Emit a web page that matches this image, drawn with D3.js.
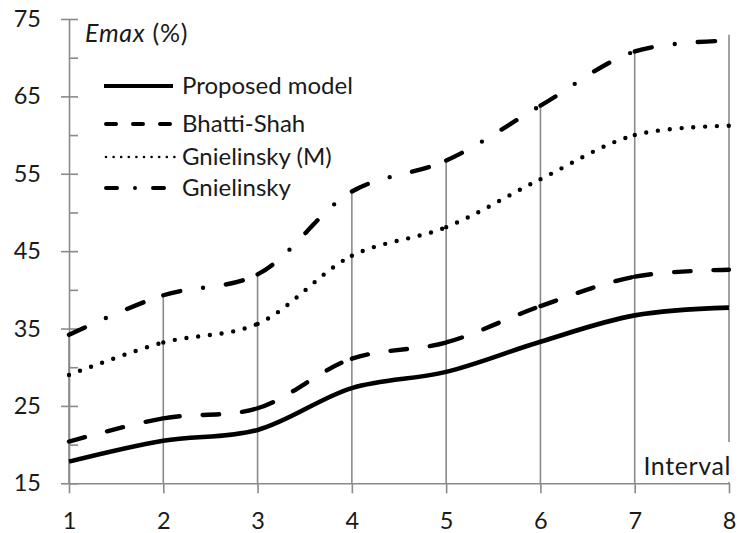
<!DOCTYPE html>
<html>
<head>
<meta charset="utf-8">
<script src="https://cdn.jsdelivr.net/npm/d3@7/dist/d3.min.js"></script>
<style>
  html, body { margin: 0; padding: 0; background: #fff; }
  svg { display: block; }
  text { font-family: Lato, "Open Sans", sans-serif; fill: #1a1a1a; }
</style>
</head>
<body>
<svg id="chart" width="740" height="533"></svg>
<script>
// Interval numbers on the horizontal axis
const intervals = [1, 2, 3, 4, 5, 6, 7, 8];

// Emax (%) per interval for each correlation
const proposedModel = [17.8, 20.5, 21.9, 27.3, 29.4, 33.3, 36.7, 37.7];
const bhattiShah    = [20.4, 23.4, 24.7, 31.1, 33.2, 37.9, 41.7, 42.6];
const gnielinskyM   = [29.0, 33.2, 35.6, 44.4, 48.1, 54.3, 60.0, 61.2];
const gnielinsky    = [34.2, 39.3, 42.0, 52.7, 56.7, 63.8, 70.8, 72.2];

const seriesNames = ["Proposed model", "Bhatti-Shah", "Gnielinsky (M)", "Gnielinsky"];

// Axis ticks
const yMajorTicks = [15, 25, 35, 45, 55, 65, 75];
const yMinorTicks = [20, 30, 40, 50, 60, 70];

const svg = d3.select("#chart");
const axisColor = "#8a8a8a";

const x = d3.scaleLinear().domain([1, 8]).range([69, 729]);
const y = d3.scaleLinear().domain([15, 75]).range([483.3, 19]);

// Line styles: dash pattern restarts at every data point
const styles = [
  { values: proposedModel, dash: null,              width: 4.6, legendDash: null,           legendWidth: 4 },
  { values: bhattiShah,    dash: [16.5, 23],        width: 4.4, legendDash: [10, 17],       legendWidth: 4 },
  { values: gnielinskyM,   dash: [0, 11.8],         width: 4.4, legendDash: [0, 7.6],       legendWidth: 2.6 },
  { values: gnielinsky,    dash: [17.5, 23, 0, 23], width: 4.4, legendDash: [11, 18, 0, 18], legendWidth: 4 }
];

// Drop lines from the axis up to the highest series at each interval
const allSeries = styles.map(s => s.values);
const highest = intervals.map((d, i) => d3.max(allSeries, s => s[i]));
svg.append("g")
  .selectAll("line")
  .data(intervals)
  .join("line")
  .attr("x1", d => x(d)).attr("x2", d => x(d))
  .attr("y1", y(15))
  .attr("y2", (d, i) => y(highest[i]) - (i === intervals.length - 1 ? 6 : 2))
  .attr("stroke", axisColor)
  .attr("stroke-width", 1.6);

// Axis title on the right, with a white box over the last drop line
const xTitle = svg.append("g");
xTitle.append("rect")
  .attr("x", 640).attr("y", 442).attr("width", 95).attr("height", 40)
  .attr("fill", "#fff");
xTitle.append("text")
  .attr("x", 731).attr("y", 475)
  .attr("text-anchor", "end")
  .attr("font-size", 25)
  .attr("letter-spacing", 0.6)
  .text("Interval");

// Y axis with crossing major ticks and inside minor ticks
const yAxis = svg.append("g")
  .attr("transform", `translate(${x(1)},0)`)
  .call(d3.axisLeft(y).tickValues(yMajorTicks).tickSize(8).tickSizeOuter(0).tickPadding(20));
yAxis.selectAll(".tick line").attr("x1", 9);
const yMinor = svg.append("g")
  .attr("transform", `translate(${x(1)},0)`)
  .call(d3.axisLeft(y).tickValues(yMinorTicks).tickSize(-9).tickFormat(""));
yMinor.select(".domain").remove();

// X axis
const xAxis = svg.append("g")
  .attr("transform", `translate(0,${y(15)})`)
  .call(d3.axisBottom(x).tickValues(intervals).tickSize(10).tickSizeOuter(0).tickPadding(19).tickFormat(d3.format("d")));

[yAxis, yMinor, xAxis].forEach(g => {
  g.selectAll("line, path").attr("stroke", axisColor).attr("stroke-width", 1.6);
  g.selectAll("text").attr("font-size", 23.5).attr("fill", "#1a1a1a")
    .attr("font-family", "Lato, 'Open Sans', sans-serif");
});

// Build a dash array that starts the pattern over at each data point
function segmentedDash(node, pattern, xs) {
  const total = node.getTotalLength();
  const findLen = px => {
    let lo = 0, hi = total;
    for (let k = 0; k < 40; k++) {
      const mid = (lo + hi) / 2;
      if (node.getPointAtLength(mid).x < px) lo = mid; else hi = mid;
    }
    return (lo + hi) / 2;
  };
  const marks = xs.map((px, i) => i === 0 ? 0 : (i === xs.length - 1 ? total : findLen(px)));
  const out = [];
  for (let i = 0; i < marks.length - 1; i++) {
    const segLen = marks[i + 1] - marks[i];
    let acc = 0, k = 0;
    const seg = [];
    while (acc < segLen - 1e-6) {
      const v = pattern[k % pattern.length];
      const take = Math.min(v, segLen - acc);
      seg.push(take);
      acc += take;
      k++;
    }
    if (seg.length % 2 === 1) seg.push(0);
    out.push(...seg);
  }
  out.push(0, total + 50);
  return out.join(",");
}

const line = d3.line()
  .x((d, i) => x(intervals[i]))
  .y(d => y(d))
  .curve(d3.curveCatmullRom.alpha(0.5));

const xsPx = intervals.map(d => x(d));
const lines = svg.append("g").attr("fill", "none");
styles.forEach(s => {
  const p = lines.append("path")
    .datum(s.values)
    .attr("d", line)
    .attr("stroke", "#000")
    .attr("stroke-width", s.width)
    .attr("stroke-linecap", s.dash ? "round" : "butt")
    .attr("stroke-linejoin", "round");
  if (s.dash) p.attr("stroke-dasharray", segmentedDash(p.node(), s.dash, xsPx));
});

// Chart title inside the plot
const title = svg.append("text")
  .attr("x", 85).attr("y", 42)
  .attr("font-size", 25)
  .attr("letter-spacing", 0.8);
title.append("tspan").attr("font-style", "italic").text("Emax");
title.append("tspan").text(" (%)");

// Legend
const legendRows = [86, 124, 157, 188];
const legendSampleEnd = [173, 173, 173, 163];
const legend = svg.append("g");
styles.forEach((s, i) => {
  legend.append("line")
    .attr("x1", 104).attr("x2", legendSampleEnd[i])
    .attr("y1", legendRows[i]).attr("y2", legendRows[i])
    .attr("stroke", "#000")
    .attr("stroke-width", s.legendWidth)
    .attr("stroke-linecap", s.legendDash ? "round" : "butt")
    .attr("stroke-dasharray", s.legendDash ? s.legendDash.join(",") : null)
    .attr("transform", s.legendDash ? "translate(2,0)" : null);
  legend.append("text")
    .attr("x", 182).attr("y", legendRows[i] + 7.5)
    .attr("font-size", 24)
    .text(seriesNames[i]);
});
</script>
</body>
</html>
